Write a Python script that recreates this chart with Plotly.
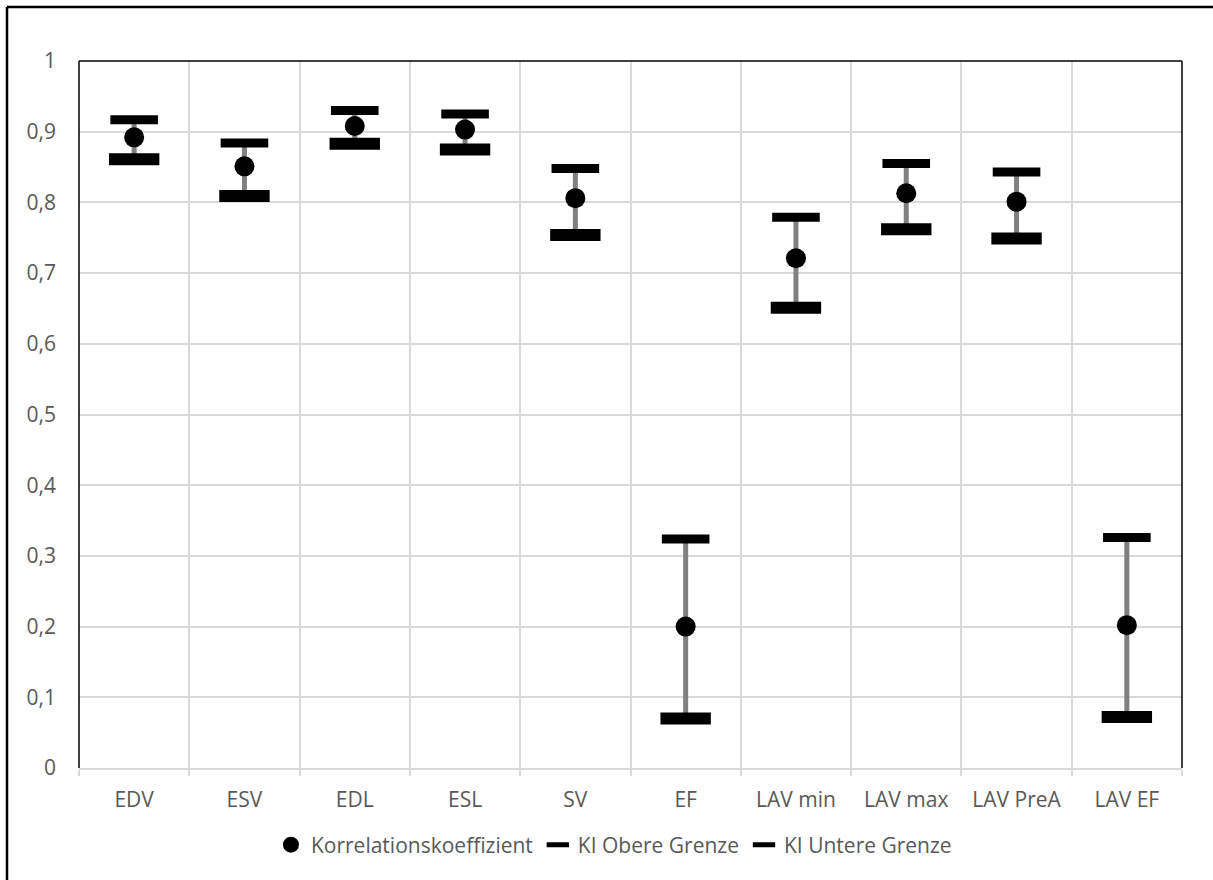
import plotly.graph_objects as go

categories = ["EDV", "ESV", "EDL", "ESL", "SV", "EF", "LAV min", "LAV max", "LAV PreA", "LAV EF"]
korrelation = [0.892, 0.851, 0.908, 0.903, 0.806, 0.200, 0.721, 0.813, 0.801, 0.202]
ki_obere = [0.917, 0.884, 0.930, 0.925, 0.848, 0.324, 0.779, 0.855, 0.843, 0.326]
ki_untere = [0.861, 0.809, 0.883, 0.875, 0.754, 0.070, 0.651, 0.762, 0.749, 0.072]
y_ticks = [0, 0.1, 0.2, 0.3, 0.4, 0.5, 0.6, 0.7, 0.8, 0.9, 1]

err_plus = [u - k for u, k in zip(ki_obere, korrelation)]
err_minus = [k - l for k, l in zip(korrelation, ki_untere)]

FONT = "Open Sans"
FS = 21
TXT = "#595959"
GRID = "#d9d9d9"

fig = go.Figure()
fig.add_trace(go.Scatter(
    x=categories, y=korrelation, mode="markers", name="Korrelationskoeffizient",
    marker=dict(symbol="circle", size=20, color="black"),
    error_y=dict(type="data", array=err_plus, arrayminus=err_minus, symmetric=False,
                 color="#808080", thickness=5, width=0),
))
fig.add_trace(go.Scatter(
    x=categories, y=ki_obere, mode="markers", name="KI Obere Grenze",
    marker=dict(symbol="line-ew", size=34, color="black", line=dict(color="black", width=9)),
))
fig.add_trace(go.Scatter(
    x=categories, y=ki_untere, mode="markers", name="KI Untere Grenze",
    marker=dict(symbol="line-ew", size=36, color="black", line=dict(color="black", width=12)),
))

L, R, T, B = 79, 31, 61, 112
W, H = 1213, 880
pw, ph = W - L - R, H - T - B

shapes = [
    dict(type="line", xref="paper", yref="paper", x0=0, x1=1, y0=1, y1=1, line=dict(color="black", width=1.5)),
    dict(type="line", xref="paper", yref="paper", x0=0, x1=0, y0=0, y1=1, line=dict(color="black", width=1.5)),
    dict(type="line", xref="paper", yref="paper", x0=1, x1=1, y0=0, y1=1, line=dict(color="black", width=1.5)),
    dict(type="line", xref="paper", yref="paper",
         x0=(7 - L) / pw, x1=(7 - L) / pw, y0=(T + ph - H - 5) / ph, y1=1 + (T - 7) / ph,
         line=dict(color="black", width=2.5)),
    dict(type="line", xref="paper", yref="paper",
         x0=(7 - L) / pw, x1=(W + 5 - L) / pw, y0=1 + (T - 7) / ph, y1=1 + (T - 7) / ph,
         line=dict(color="black", width=2.5)),
]

fig.update_layout(
    width=W, height=H,
    margin=dict(l=L, r=R, t=T, b=B),
    paper_bgcolor="white", plot_bgcolor="white",
    font=dict(family=FONT, size=FS, color=TXT),
    separators=",.",
    showlegend=True,
    legend=dict(orientation="h", x=0.485, xanchor="center", y=-0.109, yanchor="middle",
                font=dict(family=FONT, size=FS, color=TXT), itemsizing="trace",
                bgcolor="rgba(0,0,0,0)"),
    shapes=shapes,
    xaxis=dict(type="category", tickson="boundaries", showgrid=True, gridcolor=GRID, gridwidth=1.5,
               ticks="outside", ticklen=6, tickcolor=GRID, tickwidth=1.5,
               showline=True, linecolor=GRID, linewidth=2,
               range=[-0.5, 9.5], ticklabelstandoff=12,
               tickfont=dict(family=FONT, size=FS, color=TXT), zeroline=False),
    yaxis=dict(range=[0, 1], tickvals=y_ticks, showgrid=True, gridcolor=GRID, gridwidth=1.5,
               zeroline=False, showline=False, ticks="", ticklabelstandoff=22,
               tickfont=dict(family=FONT, size=FS, color=TXT)),
)

fig.write_html("out.html")
